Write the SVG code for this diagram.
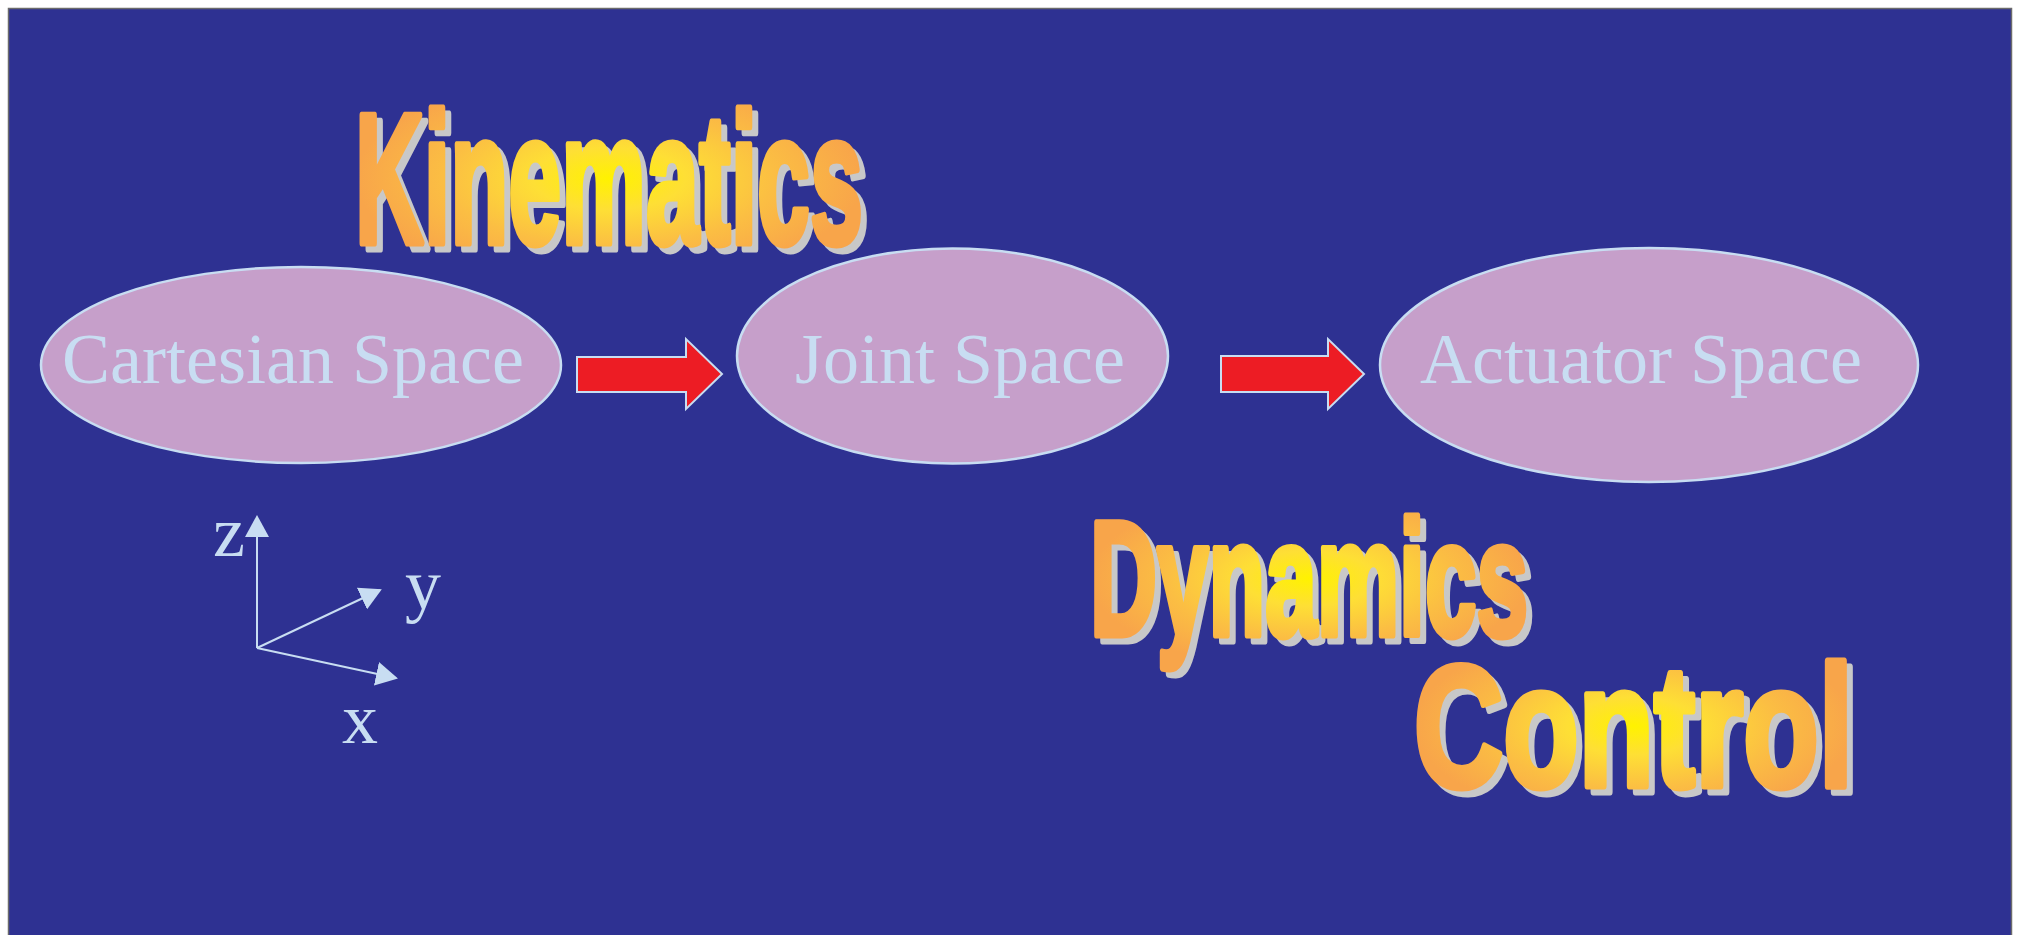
<svg xmlns="http://www.w3.org/2000/svg" width="2017" height="935" viewBox="0 0 2017 935">
  <defs>
    <radialGradient id="wa" cx="0.5" cy="0.5" r="0.5">
      <stop offset="0" stop-color="#FFF200"/>
      <stop offset="0.3" stop-color="#FEDF35"/>
      <stop offset="0.65" stop-color="#FBBE43"/>
      <stop offset="1" stop-color="#F8A54A"/>
    </radialGradient>
    <marker id="ah" viewBox="0 0 22 24" refX="20" refY="12" markerWidth="22" markerHeight="24" markerUnits="userSpaceOnUse" orient="auto">
      <path d="M0,0 L22,12 L0,24 Z" fill="#C8DDF2"/>
    </marker>
    <style>
      .node ellipse { fill: #C69FCA; stroke: #C8DDF2; stroke-width: 2.5; }
      .lbl { font-family: "Liberation Serif", "Times New Roman", serif; font-size: 72px; fill: #C8DDF2; }
      .wa { font-family: "Liberation Sans", Arial, sans-serif; font-weight: bold; }
      .wa-sh { fill: #C8C8C8; stroke: #C8C8C8; stroke-width: 7; stroke-linejoin: round; }
      .wa-fg { fill: url(#wa); stroke: url(#wa); stroke-width: 7; stroke-linejoin: round; }
      .blk { fill: #ED1C24; stroke: #C8DDF2; stroke-width: 2; stroke-linejoin: miter; }
      .axis { stroke: #C8DDF2; stroke-width: 2; fill: none; }
    </style>
  </defs>

  <rect x="8.5" y="8.5" width="2003" height="940" fill="#2E3192" stroke="#6B6B6B" stroke-width="1.5"/>

  <g id="title-kinematics" class="wa">
    <text class="wa-sh" x="361" y="249" font-size="186" textLength="508" lengthAdjust="spacingAndGlyphs">Kinematics</text>
    <text class="wa-fg" x="355" y="243" font-size="186" textLength="508" lengthAdjust="spacingAndGlyphs">Kinematics</text>
  </g>

  <g id="node-cartesian" class="node">
    <ellipse cx="301" cy="365" rx="260" ry="98"/>
    <text class="lbl" x="293" y="383" text-anchor="middle">Cartesian Space</text>
  </g>

  <g id="node-joint" class="node">
    <ellipse cx="952.5" cy="356" rx="215.5" ry="107.5"/>
    <text class="lbl" x="960" y="383" text-anchor="middle">Joint Space</text>
  </g>

  <g id="node-actuator" class="node">
    <ellipse cx="1649" cy="365" rx="269" ry="117"/>
    <text class="lbl" x="1641" y="383" text-anchor="middle">Actuator Space</text>
  </g>

  <g id="connectors">
    <path class="blk" d="M577,357 L686,357 L686,339 L722,374 L686,409 L686,392 L577,392 Z"/>
    <path class="blk" d="M1221,356 L1328,356 L1328,339 L1364,374 L1328,409 L1328,392 L1221,392 Z"/>
  </g>

  <g id="axes">
    <line class="axis" x1="257" y1="648" x2="257" y2="517" marker-end="url(#ah)"/>
    <line class="axis" x1="257" y1="648" x2="380" y2="590" marker-end="url(#ah)"/>
    <line class="axis" x1="257" y1="648" x2="396" y2="678" marker-end="url(#ah)"/>
    <text class="lbl" x="213" y="556">z</text>
    <text class="lbl" x="405" y="609">y</text>
    <text class="lbl" x="342" y="743">x</text>
  </g>

  <g id="title-dynamics" class="wa">
    <text class="wa-sh" x="1096" y="641" font-size="164" textLength="438" lengthAdjust="spacingAndGlyphs">Dynamics</text>
    <text class="wa-fg" x="1090" y="635" font-size="164" textLength="438" lengthAdjust="spacingAndGlyphs">Dynamics</text>
  </g>

  <g id="title-control" class="wa">
    <text class="wa-sh" x="1420" y="792" font-size="172" textLength="439" lengthAdjust="spacingAndGlyphs">Control</text>
    <text class="wa-fg" x="1414" y="786" font-size="172" textLength="439" lengthAdjust="spacingAndGlyphs">Control</text>
  </g>
</svg>
